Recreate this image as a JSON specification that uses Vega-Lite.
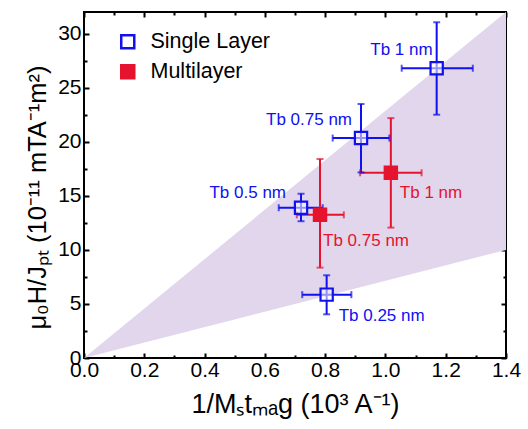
{
  "$schema": "https://vega.github.io/schema/vega-lite/v6.json",
  "width": 422,
  "height": 346,
  "autosize": {"type": "none"},
  "padding": {"left": 84, "top": 12, "right": 22, "bottom": 71},
  "background": "white",
  "config": {
    "view": {"stroke": "black", "strokeWidth": 2},
    "font": "Liberation Sans",
    "axis": {
      "domain": false,
      "grid": false,
      "labelFlush": false,
      "tickColor": "black",
      "tickWidth": 2,
      "labelFont": "Liberation Sans",
      "labelFontSize": 21,
      "labelColor": "black",
      "titleFont": "Liberation Sans",
      "titleFontSize": 27,
      "titleFontWeight": "normal",
      "titleColor": "black"
    },
    "legend": {
      "labelFont": "Liberation Sans",
      "labelFontSize": 21.5,
      "labelColor": "black",
      "symbolType": "square",
      "symbolSize": 170,
      "symbolStrokeWidth": 2.5
    }
  },
  "datasets": {
    "wedge": [
      {"x": 0, "upper": 0, "lower": 0},
      {"x": 1.4, "upper": 32, "lower": 10}
    ],
    "pts": [
      {"series": "Single Layer", "label": "Tb 1 nm", "x": 1.17, "y": 26.8, "xlo": 1.054, "xhi": 1.29, "ylo": 22.5, "yhi": 31.05},
      {"series": "Single Layer", "label": "Tb 0.75 nm", "x": 0.919, "y": 20.34, "xlo": 0.825, "xhi": 1.013, "ylo": 17.16, "yhi": 23.49},
      {"series": "Single Layer", "label": "Tb 0.5 nm", "x": 0.72, "y": 13.9, "xlo": 0.646, "xhi": 0.792, "ylo": 12.65, "yhi": 15.19},
      {"series": "Single Layer", "label": "Tb 0.25 nm", "x": 0.805, "y": 5.86, "xlo": 0.724, "xhi": 0.887, "ylo": 4.04, "yhi": 7.65},
      {"series": "Multilayer", "label": "Tb 1 nm", "x": 1.018, "y": 17.13, "xlo": 0.916, "xhi": 1.12, "ylo": 12.06, "yhi": 22.19},
      {"series": "Multilayer", "label": "Tb 0.75 nm", "x": 0.783, "y": 13.24, "xlo": 0.706, "xhi": 0.862, "ylo": 8.36, "yhi": 18.4}
    ]
  },
  "layer": [
    {
      "data": {"name": "wedge"},
      "mark": {"type": "area", "color": "#E1D6EC", "opacity": 1},
      "encoding": {
        "x": {
          "field": "x", "type": "quantitative",
          "scale": {"domain": [0, 1.4], "nice": false, "zero": false},
          "axis": {"orient": "bottom", "values": [0, 0.2, 0.4, 0.6, 0.8, 1.0, 1.2, 1.4], "format": ".1f", "tickSize": -5, "labelPadding": 6, "titlePadding": 11, "title": "1/Mₛtₘₐg (10³ A⁻¹)"}
        },
        "y": {
          "field": "upper", "type": "quantitative",
          "scale": {"domain": [0, 32], "nice": false, "zero": false},
          "axis": {"orient": "left", "values": [0, 5, 10, 15, 20, 25, 30], "tickSize": -5, "labelPadding": 8, "titlePadding": 7, "titleFontSize": 25.5, "titleY": 185, "title": "μ₀H/Jₚₜ (10⁻¹¹ mTA⁻¹m²)"}
        },
        "y2": {"field": "lower"}
      }
    },
    {
      "data": {"name": "pts"},
      "mark": {"type": "rule", "strokeWidth": 2},
      "encoding": {
        "x": {"field": "xlo", "type": "quantitative", "axis": {"orient": "top", "values": [0, 0.2, 0.4, 0.6, 0.8, 1.0, 1.2, 1.4], "labels": false, "tickSize": -5, "title": null}},
        "x2": {"field": "xhi"},
        "y": {"field": "y", "type": "quantitative", "axis": {"orient": "right", "values": [0, 5, 10, 15, 20, 25, 30], "labels": false, "tickSize": -5, "title": null}},
        "color": {"field": "series", "type": "nominal", "scale": {"domain": ["Multilayer", "Single Layer"], "range": ["#E5132E", "#1010F0"]}, "legend": null}
      }
    },
    {
      "data": {"name": "pts"},
      "mark": {"type": "rule", "strokeWidth": 2},
      "encoding": {
        "x": {"field": "x", "type": "quantitative", "axis": {"orient": "bottom", "values": [0.1, 0.3, 0.5, 0.7, 0.9, 1.1, 1.3], "labels": false, "tickSize": -3, "title": null}},
        "y": {"field": "ylo", "type": "quantitative", "axis": {"orient": "left", "values": [2.5, 7.5, 12.5, 17.5, 22.5, 27.5], "labels": false, "tickSize": -3, "title": null}},
        "y2": {"field": "yhi"},
        "color": {"field": "series", "type": "nominal", "legend": null}
      }
    },
    {
      "data": {"name": "pts"},
      "transform": [{"fold": ["xlo", "xhi"], "as": ["end", "xv"]}],
      "mark": {"type": "tick", "orient": "vertical", "size": 7, "thickness": 2},
      "encoding": {
        "x": {"field": "xv", "type": "quantitative", "axis": {"orient": "top", "values": [0.1, 0.3, 0.5, 0.7, 0.9, 1.1, 1.3], "labels": false, "tickSize": -3, "title": null}},
        "y": {"field": "y", "type": "quantitative", "axis": {"orient": "right", "values": [2.5, 7.5, 12.5, 17.5, 22.5, 27.5], "labels": false, "tickSize": -3, "title": null}},
        "color": {"field": "series", "type": "nominal", "legend": null}
      }
    },
    {
      "data": {"name": "pts"},
      "transform": [{"fold": ["ylo", "yhi"], "as": ["end", "yv"]}],
      "mark": {"type": "tick", "orient": "horizontal", "size": 7, "thickness": 2},
      "encoding": {
        "x": {"field": "x", "type": "quantitative", "axis": null},
        "y": {"field": "yv", "type": "quantitative", "axis": null},
        "color": {"field": "series", "type": "nominal", "legend": null}
      }
    },
    {
      "data": {"name": "pts"},
      "mark": {"type": "square", "size": 150, "strokeWidth": 2.2, "opacity": 1},
      "encoding": {
        "x": {"field": "x", "type": "quantitative", "axis": null},
        "y": {"field": "y", "type": "quantitative", "axis": null},
        "fill": {
          "field": "series", "type": "nominal",
          "scale": {"domain": ["Single Layer", "Multilayer"], "range": ["rgba(255,255,255,0.55)", "#E5132E"]},
          "legend": {"title": null, "orient": "none", "legendX": 33, "legendY": 19, "labelOffset": 12, "rowPadding": 6, "padding": 0}
        },
        "stroke": {
          "field": "series", "type": "nominal",
          "scale": {"domain": ["Single Layer", "Multilayer"], "range": ["#1010F0", "#E5132E"]},
          "legend": {"title": null, "orient": "none", "legendX": 33, "legendY": 19, "labelOffset": 12, "rowPadding": 6, "padding": 0}
        }
      }
    },
    {
      "data": {"name": "pts"},
      "transform": [{"filter": {"and": [{"field": "series", "equal": "Single Layer"}, {"field": "label", "equal": "Tb 1 nm"}]}}],
      "mark": {"type": "text", "font": "Liberation Sans", "fontSize": 17, "align": "right", "baseline": "middle", "dx": -4, "dy": -18, "color": "#1010F0"},
      "encoding": {
        "x": {"field": "x", "type": "quantitative", "axis": null},
        "y": {"field": "y", "type": "quantitative", "axis": null},
        "text": {"field": "label"}
      }
    },
    {
      "data": {"name": "pts"},
      "transform": [{"filter": {"and": [{"field": "series", "equal": "Single Layer"}, {"field": "label", "equal": "Tb 0.75 nm"}]}}],
      "mark": {"type": "text", "font": "Liberation Sans", "fontSize": 17, "align": "right", "baseline": "middle", "dx": -9, "dy": -18, "color": "#1010F0"},
      "encoding": {
        "x": {"field": "x", "type": "quantitative", "axis": null},
        "y": {"field": "y", "type": "quantitative", "axis": null},
        "text": {"field": "label"}
      }
    },
    {
      "data": {"name": "pts"},
      "transform": [{"filter": {"and": [{"field": "series", "equal": "Single Layer"}, {"field": "label", "equal": "Tb 0.5 nm"}]}}],
      "mark": {"type": "text", "font": "Liberation Sans", "fontSize": 17, "align": "right", "baseline": "middle", "dx": -15, "dy": -15, "color": "#1010F0"},
      "encoding": {
        "x": {"field": "x", "type": "quantitative", "axis": null},
        "y": {"field": "y", "type": "quantitative", "axis": null},
        "text": {"field": "label"}
      }
    },
    {
      "data": {"name": "pts"},
      "transform": [{"filter": {"and": [{"field": "series", "equal": "Single Layer"}, {"field": "label", "equal": "Tb 0.25 nm"}]}}],
      "mark": {"type": "text", "font": "Liberation Sans", "fontSize": 17, "align": "left", "baseline": "middle", "dx": 12, "dy": 21, "color": "#1010F0"},
      "encoding": {
        "x": {"field": "x", "type": "quantitative", "axis": null},
        "y": {"field": "y", "type": "quantitative", "axis": null},
        "text": {"field": "label"}
      }
    },
    {
      "data": {"name": "pts"},
      "transform": [{"filter": {"and": [{"field": "series", "equal": "Multilayer"}, {"field": "label", "equal": "Tb 1 nm"}]}}],
      "mark": {"type": "text", "font": "Liberation Sans", "fontSize": 17, "align": "left", "baseline": "middle", "dx": 9, "dy": 20, "color": "#E5132E"},
      "encoding": {
        "x": {"field": "x", "type": "quantitative", "axis": null},
        "y": {"field": "y", "type": "quantitative", "axis": null},
        "text": {"field": "label"}
      }
    },
    {
      "data": {"name": "pts"},
      "transform": [{"filter": {"and": [{"field": "series", "equal": "Multilayer"}, {"field": "label", "equal": "Tb 0.75 nm"}]}}],
      "mark": {"type": "text", "font": "Liberation Sans", "fontSize": 17, "align": "left", "baseline": "middle", "dx": 3, "dy": 26, "color": "#E5132E"},
      "encoding": {
        "x": {"field": "x", "type": "quantitative", "axis": null},
        "y": {"field": "y", "type": "quantitative", "axis": null},
        "text": {"field": "label"}
      }
    }
  ],
  "resolve": {"axis": {"x": "independent", "y": "independent"}}
}
